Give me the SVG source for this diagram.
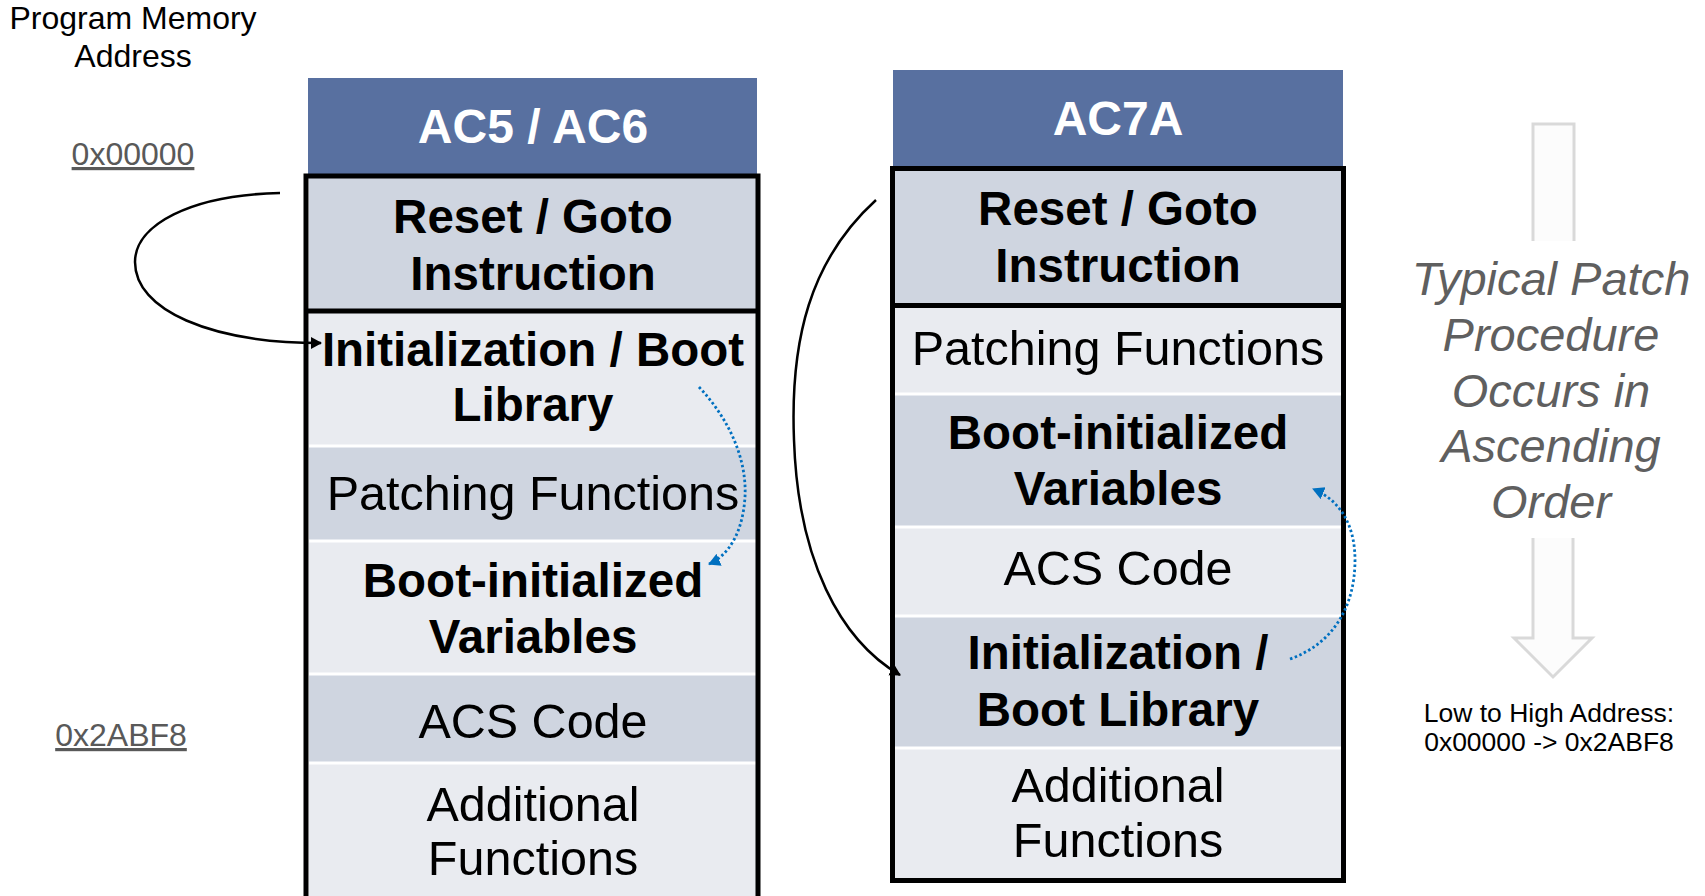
<svg xmlns="http://www.w3.org/2000/svg" width="1705" height="896" viewBox="0 0 1705 896">
<defs>
<style>
text{font-family:"Liberation Sans",Arial,sans-serif;fill:#000}
.hdr{fill:#5870A0}
.htxt{fill:#fff;font-weight:bold;font-size:48px;text-anchor:middle}
.dk{fill:#CFD5E0}
.lt{fill:#E9EBF0}
.sep{stroke:#fff;stroke-width:3}
.box{fill:none;stroke:#000;stroke-width:5}
.b{font-weight:bold;font-size:47.5px;text-anchor:middle}
.r{font-size:48.5px;text-anchor:middle}
.addr{font-size:32px;fill:#595959;text-decoration:underline;text-anchor:middle}
.lbl{font-size:32px;text-anchor:middle}
.it{font-style:italic;font-size:47px;fill:#5f5f5f;text-anchor:middle}
.sm{font-size:26.5px;text-anchor:middle}
.jump{fill:none;stroke:#000;stroke-width:2.5}
.dot{fill:none;stroke:#0070C0;stroke-width:2.8;stroke-dasharray:2.5 2.5}
</style>
<marker id="ah" markerUnits="userSpaceOnUse" markerWidth="14" markerHeight="14" refX="10" refY="6" orient="auto"><path d="M0,0 L11,6 L0,12 Z" fill="#000"/></marker>
<marker id="bh" markerUnits="userSpaceOnUse" markerWidth="16" markerHeight="16" refX="11" refY="6.5" orient="auto"><path d="M0,0 L12,6.5 L0,13 Z" fill="#0070C0"/></marker>
</defs>

<g id="axis-label">
<text class="lbl" x="133" y="29">Program Memory</text>
<text class="lbl" x="133" y="67">Address</text>
<text class="addr" x="133" y="165">0x00000</text>
<text class="addr" x="121" y="746">0x2ABF8</text>
</g>

<g id="ac56">
<rect class="hdr" x="308" y="78" width="449" height="98"/>
<text class="htxt" x="533" y="143">AC5 / AC6</text>
<rect class="dk" x="309" y="176" width="448" height="135"/>
<rect class="lt" x="309" y="311" width="448" height="135"/>
<rect class="dk" x="309" y="446" width="448" height="95"/>
<rect class="lt" x="309" y="541" width="448" height="133"/>
<rect class="dk" x="309" y="674" width="448" height="89"/>
<rect class="lt" x="309" y="763" width="448" height="140"/>
<line class="sep" x1="309" y1="446" x2="757" y2="446"/>
<line class="sep" x1="309" y1="541" x2="757" y2="541"/>
<line class="sep" x1="309" y1="674" x2="757" y2="674"/>
<line class="sep" x1="309" y1="763" x2="757" y2="763"/>
<rect class="box" x="306" y="176" width="452" height="760"/>
<line x1="306" y1="311" x2="758" y2="311" stroke="#000" stroke-width="5"/>
<text class="b" x="533" y="233">Reset / Goto</text>
<text class="b" x="533" y="290">Instruction</text>
<text class="b" x="533" y="366">Initialization / Boot</text>
<text class="b" x="533" y="421">Library</text>
<text class="r" x="533" y="510">Patching Functions</text>
<text class="b" x="533" y="597">Boot-initialized</text>
<text class="b" x="533" y="653">Variables</text>
<text class="r" x="533" y="738">ACS Code</text>
<text class="r" x="533" y="821">Additional</text>
<text class="r" x="533" y="875">Functions</text>
</g>

<g id="ac7a">
<rect class="hdr" x="893" y="70" width="450" height="98"/>
<text class="htxt" x="1118" y="135">AC7A</text>
<rect class="dk" x="894" y="169" width="449" height="137"/>
<rect class="lt" x="894" y="306" width="449" height="88"/>
<rect class="dk" x="894" y="394" width="449" height="133"/>
<rect class="lt" x="894" y="527" width="449" height="89"/>
<rect class="dk" x="894" y="616" width="449" height="132"/>
<rect class="lt" x="894" y="748" width="449" height="133"/>
<line class="sep" x1="894" y1="394" x2="1343" y2="394"/>
<line class="sep" x1="894" y1="527" x2="1343" y2="527"/>
<line class="sep" x1="894" y1="616" x2="1343" y2="616"/>
<line class="sep" x1="894" y1="748" x2="1343" y2="748"/>
<rect class="box" x="892.5" y="168.5" width="451" height="712"/>
<line x1="892" y1="305.5" x2="1344" y2="305.5" stroke="#000" stroke-width="5"/>
<text class="b" x="1118" y="225">Reset / Goto</text>
<text class="b" x="1118" y="282">Instruction</text>
<text class="r" x="1118" y="365">Patching Functions</text>
<text class="b" x="1118" y="449">Boot-initialized</text>
<text class="b" x="1118" y="505">Variables</text>
<text class="r" x="1118" y="585">ACS Code</text>
<text class="b" x="1118" y="669">Initialization /</text>
<text class="b" x="1118" y="726">Boot Library</text>
<text class="r" x="1118" y="802">Additional</text>
<text class="r" x="1118" y="857">Functions</text>
</g>

<g id="order-arrow">
<path d="M1533,241 L1533,124 L1574,124 L1574,241" fill="#fcfcfc" stroke="#d9d9d9" stroke-width="3"/>
<path d="M1533,538 L1533,638 L1514,638 L1553,677 L1592,638 L1573,638 L1573,538" fill="#fcfcfc" stroke="#d9d9d9" stroke-width="3"/>
<text class="it" x="1551" y="295">Typical Patch</text>
<text class="it" x="1551" y="351">Procedure</text>
<text class="it" x="1551" y="407">Occurs in</text>
<text class="it" x="1551" y="462">Ascending</text>
<text class="it" x="1551" y="518">Order</text>
<text class="sm" x="1549" y="722">Low to High Address:</text>
<text class="sm" x="1549" y="751">0x00000 -&gt; 0x2ABF8</text>
</g>

<g id="connectors">
<path class="jump" d="M280,193 C190,195 135,225 135,262 C135,310 210,343 321,343" marker-end="url(#ah)"/>
<path class="jump" d="M876,200 C810,260 790,340 794,440 C798,560 840,640 900,675" marker-end="url(#ah)"/>
<path class="dot" d="M699,387 C730,420 747,460 745,497 C743,530 730,555 709,564" marker-end="url(#bh)"/>
<path class="dot" d="M1290,659 C1330,645 1355,610 1355,560 C1355,525 1340,500 1313,489" marker-end="url(#bh)"/>
</g>
</svg>
